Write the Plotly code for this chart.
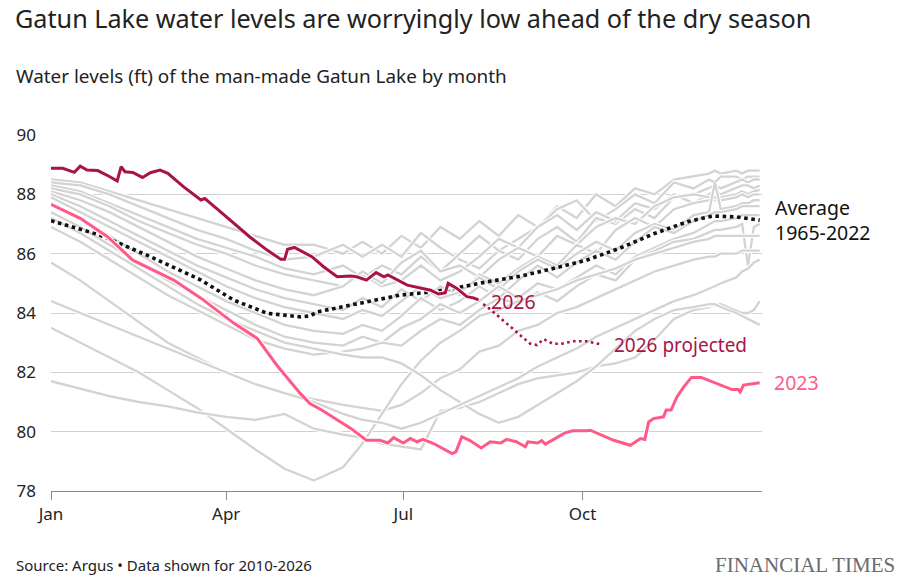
import plotly.graph_objects as go

# day of year (0 = 1 Jan) for the grey past-year lines
grid_days = [0, 15, 30, 45, 60, 75, 90, 105, 120, 135, 150,
             160, 170, 180, 190, 200, 210, 220, 230, 240, 250, 260, 270, 280, 290, 300, 310, 320, 330,
             338, 341, 344, 352, 355, 358, 361, 364]

gray_01 = [88.5, 88.4, 88.1, 87.8, 87.5, 87.2, 86.9, 86.6, 86.3, 86.3, 86.0,
           86.4, 86.0, 86.6, 86.2, 86.9, 86.5, 87.1, 86.6, 87.3, 86.9, 87.6, 87.2, 88.0, 87.6, 88.2, 88.0, 88.5, 88.6,
           88.7, 88.8, 88.7, 88.8, 88.7, 88.8, 88.8, 88.8]
gray_02 = [88.4, 88.3, 88.0, 87.6, 87.2, 86.8, 86.5, 86.1, 85.8, 85.9, 86.3,
           85.9, 86.3, 85.9, 86.7, 86.2, 85.8, 85.5, 86.1, 86.5, 86.9, 87.5, 87.8, 87.1, 87.5, 88.0, 87.7, 88.4, 88.2,
           88.5, 88.4, 88.6, 88.6, 88.5, 88.6, 88.6, 88.6]
gray_03 = [88.3, 88.1, 87.7, 87.3, 86.9, 86.5, 86.2, 85.9, 85.5, 85.3, 85.6,
           85.2, 85.6, 85.3, 85.9, 85.4, 86.0, 86.6, 86.1, 85.8, 86.5, 86.9, 86.4, 87.2, 87.0, 87.5, 87.2, 87.9, 88.0,
           88.2, 88.3, 88.2, 88.4, 88.5, 88.4, 88.5, 88.5]
gray_04 = [88.2, 88.0, 87.6, 87.1, 86.7, 86.3, 86.0, 85.6, 85.3, 85.1, 84.9,
           85.3, 84.9, 85.1, 85.6, 85.1, 85.4, 85.9, 86.5, 86.2, 86.9, 87.3, 86.8, 87.4, 87.1, 87.7, 87.5, 88.0, 87.7,
           88.0, 88.1, 88.0, 88.2, 88.3, 88.3, 88.2, 88.3]
gray_05 = [88.1, 87.8, 87.4, 86.9, 86.4, 85.9, 85.5, 85.1, 84.8, 84.6, 84.9,
           85.4, 85.0, 85.7, 86.1, 85.4, 85.6, 85.2, 85.8, 86.2, 85.9, 86.6, 86.3, 86.9, 87.2, 87.0, 87.6, 87.9, 88.0,
           87.9, 87.8, 87.9, 88.0, 88.1, 88.0, 88.1, 88.15]
gray_06 = [88.0, 87.6, 87.1, 86.6, 86.1, 85.6, 85.2, 84.8, 84.5, 84.3, 84.1,
           84.5, 84.2, 84.8, 84.4, 84.9, 84.6, 85.3, 85.0, 85.5, 85.9, 85.6, 86.3, 86.0, 86.8, 87.2, 86.9, 87.5, 87.7,
           87.8, 87.9, 87.8, 87.9, 88.0, 87.9, 88.0, 88.0]
gray_07 = [87.9, 87.4, 86.9, 86.4, 85.9, 85.4, 84.9, 84.5, 84.2, 84.0, 83.8,
           84.1, 83.9, 84.4, 84.9, 84.5, 84.7, 85.2, 84.8, 85.4, 85.8, 85.5, 86.0, 86.4, 86.1, 86.7, 87.0, 86.8, 87.3,
           87.4, 88.4, 87.5, 87.6, 87.7, 87.7, 87.8, 87.8]
gray_08 = [87.7, 87.2, 86.6, 86.0, 85.4, 84.9, 84.4, 84.0, 83.6, 83.4, 83.3,
           83.6, 83.4, 83.9, 84.5, 84.1, 84.4, 84.9, 84.5, 85.1, 85.6, 85.2, 85.7, 86.1, 85.8, 86.4, 86.9, 86.7, 87.1,
           87.3, 87.4, 87.4, 87.5, 87.6, 87.6, 87.6, 87.6]
gray_09 = [87.4, 86.9, 86.3, 85.7, 85.1, 84.6, 84.1, 83.6, 83.2, 83.0, 82.9,
           83.2, 83.0, 83.5, 83.8, 84.3, 84.0, 84.4, 84.9, 84.5, 85.0, 84.8, 85.2, 85.6, 85.3, 85.9, 86.2, 86.5, 86.7,
           87.0, 87.1, 87.1, 87.2, 87.3, 87.3, 87.3, 87.3]
gray_10 = [86.9, 86.4, 85.8, 85.2, 84.6, 84.1, 83.6, 83.1, 82.8, 82.6, 82.7,
           82.8, 83.0, 82.9, 83.4, 83.8, 83.6, 84.1, 84.5, 84.3, 84.7, 84.4, 84.9, 85.3, 85.1, 85.8, 86.1, 86.4, 86.5,
           86.7, 86.8, 86.8, 86.9, 87.0, 85.6, 86.9, 87.0]
gray_11 = [85.7, 85.1, 84.4, 83.7, 83.0, 82.5, 82.0, 81.6, 81.3, 81.1, 80.9,
           80.8, 80.7, 80.9, 81.3, 81.8, 82.1, 82.7, 82.9, 83.4, 83.6, 84.0, 84.2, 84.5, 84.8, 85.1, 85.4, 85.6, 85.8,
           85.9, 85.9, 86.0, 86.0, 86.1, 86.1, 86.1, 86.1]
gray_12 = [83.5, 83.0, 82.5, 82.0, 81.4, 80.8, 80.1, 79.4, 78.75, 78.35, 78.8,
           79.6, 80.6, 81.6, 82.4, 83.0, 83.4, 83.9, 84.1, 84.4, 84.6, 84.8, 85.1, 85.3, 85.5, 85.8, 86.0, 86.2, 86.4,
           86.5, 86.6, 86.6, 86.6, 86.6, 86.6, 86.6, 86.6]
gray_13 = [81.7, 81.45, 81.2, 81.0, 80.85, 80.65, 80.5, 80.4, 80.6, 80.1, 79.9,
           79.8, 79.6, 79.5, 79.4, 80.7, 80.8, 81.0, 81.3, 81.6, 81.8, 81.9, 82.0, 82.2, 82.3, 82.5, 83.1, 83.8, 84.1,
           84.2, 84.3, 84.3, 84.1, 84.0, 84.0, 84.1, 84.4]
gray_14 = [87.2, 86.7, 86.1, 85.5, 84.9, 84.3, 83.8, 83.4, 83.0, 82.8, 82.6,
           82.5, 82.5, 82.3, 81.9, 81.4, 81.0, 80.6, 80.3, 80.5, 80.9, 81.3, 81.7, 82.2, 82.8, 83.4, 83.8, 84.1, 84.2,
           84.3, 84.3, 84.2, 84.0, 83.9, 83.8, 83.7, 83.6]
gray_15 = [84.4, 84.0, 83.6, 83.2, 82.8, 82.4, 82.0, 81.6, 81.3, 81.0, 80.6,
           80.4, 80.3, 80.1, 80.3, 80.6, 80.9, 81.2, 81.5, 81.8, 82.2, 82.5, 82.8, 83.2, 83.5, 83.8, 84.1, 84.4, 84.6,
           84.8, 84.9, 85.0, 85.2, 85.4, 85.5, 85.7, 85.8]

avg_days = [0, 25, 51, 77, 94, 111, 128, 133, 137, 154, 179, 197, 207, 224, 241, 258, 275, 292, 310, 327, 340, 352, 364]
avg_vals = [87.11, 86.63, 85.9, 85.11, 84.43, 83.99, 83.87, 83.9, 84.04, 84.27, 84.6, 84.72, 84.83, 85.05,
            85.24, 85.5, 85.78, 86.18, 86.68, 87.08, 87.27, 87.24, 87.13]

y2023_days = [0, 15, 29, 42, 63, 77, 94, 106, 116, 128, 133, 139, 154, 162, 169, 173, 176, 181, 184.5, 188, 191,
              196.5, 206, 208, 211, 215, 221, 225.6, 231, 234, 239, 243.6, 245, 250, 252, 254, 264, 268, 275, 277,
              289, 297.6, 302.8, 305, 307, 309.5, 314.6, 316, 318.5, 321.5, 325, 329, 334, 343.8, 349.8, 353,
              354, 355.7, 364]
y2023_vals = [87.66, 87.19, 86.57, 85.78, 85.11, 84.5, 83.65, 83.14, 82.24, 81.29, 80.95, 80.73, 80.11, 79.71,
              79.71, 79.62, 79.8, 79.62, 79.77, 79.66, 79.74, 79.6, 79.26, 79.32, 79.83, 79.71, 79.45, 79.66,
              79.62, 79.74, 79.66, 79.49, 79.66, 79.62, 79.7, 79.58, 79.96, 80.03, 80.03, 80.05, 79.71, 79.54,
              79.77, 79.74, 80.33, 80.44, 80.5, 80.73, 80.73, 81.17, 81.51, 81.83, 81.83, 81.57, 81.42, 81.42,
              81.34, 81.57, 81.65]

y2026_days = [0, 6, 12, 15, 18.5, 24, 30, 34, 36, 38, 42, 47, 51, 56, 60, 68, 77, 79, 85, 94, 102, 111, 118,
              120, 121.5, 125, 129, 134, 140, 147, 154, 157, 162, 167, 171, 173, 183, 190, 195, 199, 202.5, 204,
              208.5, 213.6, 217, 219.6]
y2026_vals = [88.88, 88.88, 88.74, 88.95, 88.82, 88.8, 88.6, 88.45, 88.93, 88.76, 88.74, 88.57, 88.73, 88.82,
              88.71, 88.26, 87.81, 87.86, 87.53, 87.02, 86.57, 86.12, 85.81, 85.81, 86.15, 86.21, 86.06, 85.9,
              85.56, 85.22, 85.25, 85.22, 85.11, 85.36, 85.22, 85.28, 84.94, 84.83, 84.77, 84.64, 84.68, 85.0,
              84.83, 84.55, 84.51, 84.44]

proj_days = [222, 224, 231, 239, 246, 249.6, 253, 258, 263, 268, 275, 282]
proj_vals = [84.3, 84.21, 83.82, 83.37, 82.97, 82.92, 83.12, 82.96, 82.97, 83.05, 83.05, 82.95]

month_ticks = [0, 90, 181, 273]
month_labels = ["Jan", "Apr", "Jul", "Oct"]
level_ticks = [78, 80, 82, 84, 86, 88, 90]

GRAY = "#d3d3d3"
CLARET = "#a81446"
PINK = "#ff5a87"
FONT = "Noto Sans"

fig = go.Figure()


def add_line(x, y, color, width, dash=None, halo=True):
    if halo:
        fig.add_trace(go.Scatter(x=x, y=y, mode="lines", hoverinfo="skip",
                                 line=dict(color="white", width=width + 2.2)))
    fig.add_trace(go.Scatter(x=x, y=y, mode="lines",
                             line=dict(color=color, width=width, dash=dash)))


for vals in [gray_01, gray_02, gray_03, gray_04, gray_05, gray_06, gray_07, gray_08,
             gray_09, gray_10, gray_11, gray_12, gray_13, gray_14, gray_15]:
    add_line(grid_days, vals, GRAY, 2.3)

add_line(avg_days, avg_vals, "#111111", 3.6, dash="3.6px,3.6px", halo=False)
add_line(proj_days, proj_vals, CLARET, 2.6, dash="2.6px,3.4px", halo=False)
add_line(y2026_days, y2026_vals, CLARET, 3)
add_line(y2023_days, y2023_vals, PINK, 3)

fig.update_layout(
    width=900, height=581,
    margin=dict(l=51, r=138, t=135, b=90),
    paper_bgcolor="white", plot_bgcolor="white",
    showlegend=False,
    font=dict(family=FONT, color="#222222", size=16),
    xaxis=dict(range=[0, 365.2], tickvals=month_ticks, ticktext=month_labels,
               showgrid=False, zeroline=False, showline=True, linecolor="#8c8c8c", linewidth=1,
               ticks="outside", ticklen=8, tickcolor="#8c8c8c", tickfont=dict(size=17, color="#222")),
    yaxis=dict(range=[78, 90], tickvals=level_ticks, showgrid=True, gridcolor="#d0d0d0", gridwidth=1,
               zeroline=False, showline=False, ticks="", ticklabelstandoff=14,
               tickfont=dict(size=17, color="#222")),
)

annots = [
    dict(text="Gatun Lake water levels are worryingly low ahead of the dry season", x=-0.0535, y=1.329,
         size=25.2, color="#222222", family=FONT),
    dict(text="Water levels (ft) of the man-made Gatun Lake by month", x=-0.052, y=1.166,
         size=18.9, color="#222222", family=FONT),
    dict(text="Source: Argus \u2022 Data shown for 2010-2026", x=-0.052, y=-0.208,
         size=15, color="#222222", family=FONT),
]
for a in annots:
    fig.add_annotation(text=a["text"], xref="paper", yref="paper", x=a["x"], y=a["y"],
                       xanchor="left", yanchor="middle", showarrow=False,
                       font=dict(size=a["size"], color=a["color"], family=a["family"]))

fig.add_annotation(text="FINANCIAL TIMES", xref="paper", yref="paper", x=1.19, y=-0.208,
                   xanchor="right", yanchor="middle", showarrow=False,
                   font=dict(family="Liberation Serif", size=21, color="#6b6b6b"))

fig.add_annotation(text="Average<br>1965-2022", xref="paper", yref="y", x=1.0155, y=87.13,
                   xanchor="left", yanchor="middle", align="left", showarrow=False,
                   font=dict(size=19.5, color="#111111", family=FONT))
fig.add_annotation(text="2026", x=225.0, y=84.4, xanchor="left", yanchor="middle", showarrow=False,
                   font=dict(size=19.5, color=CLARET, family=FONT))
fig.add_annotation(text="2026 projected", x=288.3, y=82.92, xanchor="left", yanchor="middle",
                   showarrow=False, font=dict(size=19, color=CLARET, family=FONT))
fig.add_annotation(text="2023", xref="paper", yref="y", x=1.0141, y=81.65, xanchor="left",
                   yanchor="middle", showarrow=False, font=dict(size=19.5, color=PINK, family=FONT))

fig.write_html("out.html", config={"displayModeBar": False},
               post_script="document.body.style.margin = '0';")
